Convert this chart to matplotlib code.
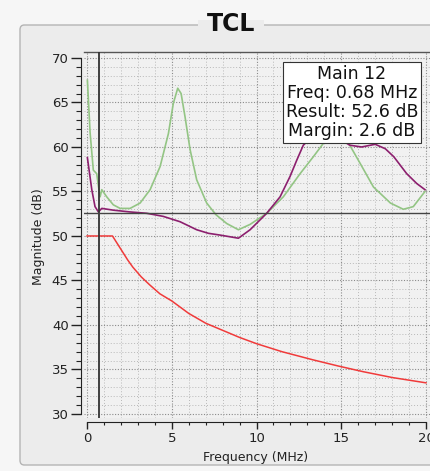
import matplotlib
matplotlib.use("Agg")
import matplotlib.pyplot as plt
from matplotlib.patches import FancyBboxPatch
from matplotlib.ticker import MultipleLocator

# --- data ---
green_f = [0.02, 0.18, 0.37, 0.57, 0.68, 0.77, 0.87, 1.16, 1.55, 1.95, 2.54, 3.13,
           3.72, 4.31, 4.8, 5.09, 5.35, 5.55, 5.78, 6.08, 6.47, 7.06, 7.6, 8.24,
           8.93, 9.62, 10.6, 11.58, 12.57, 13.35, 13.94, 14.3, 14.7, 15.1, 15.5,
           16.1, 16.9, 17.9, 18.66, 19.25, 19.94]
green_db = [67.5, 61.6, 57.4, 57.0, 55.5, 54.4, 55.2, 54.4, 53.5, 53.1, 53.1, 53.7,
            55.2, 57.8, 61.5, 64.9, 66.6, 66.0, 63.4, 59.7, 56.3, 53.7, 52.4, 51.4,
            50.7, 51.3, 52.55, 54.4, 57.0, 58.9, 60.4, 61.6, 62.3, 61.5, 60.2,
            58.2, 55.5, 53.7, 53.0, 53.3, 55.0]

purple_f = [0.02, 0.28, 0.47, 0.67, 0.87, 1.55, 2.54, 3.52, 4.5, 5.49, 6.47, 7.16,
            7.85, 8.93, 9.62, 10.6, 11.39, 11.98, 12.37, 12.76, 13.2, 14.0, 15.0,
            15.5, 16.2, 17.0, 17.6, 18.1, 18.86, 19.45, 19.94]
purple_db = [58.8, 55.2, 53.3, 52.7, 53.1, 52.9, 52.7, 52.55, 52.2, 51.6, 50.7, 50.3,
             50.1, 49.75, 50.7, 52.55, 54.4, 56.7, 58.5, 60.2, 61.0, 61.3, 60.8,
             60.2, 60.0, 60.3, 59.8, 58.9, 57.0, 55.9, 55.2]

limit_f = [0.0, 1.5, 1.8, 2.1, 2.4, 2.7, 3.2, 3.7, 4.3, 5.0, 6.0, 7.0, 8.0, 9.0,
           10.0, 11.5, 13.3, 14.8, 16.3, 18.0, 20.0]
limit_db = [50.0, 50.0, 49.1, 48.2, 47.3, 46.5, 45.4, 44.5, 43.5, 42.7, 41.3, 40.2,
            39.4, 38.6, 37.9, 37.0, 36.1, 35.4, 34.75, 34.1, 33.5]

marker_freq = 0.68
marker_result = 52.6
info_lines = ["Main 12", "Freq: 0.68 MHz", "Result: 52.6 dB", "Margin: 2.6 dB"]

W, H = 431, 471
fig = plt.figure(figsize=(W / 100, H / 100), dpi=100, facecolor="#f6f6f6")

# group box behind the plot
box = FancyBboxPatch((20 / W, 1 - 465 / H), 430 / W, 440 / H,
                     boxstyle="round,pad=0,rounding_size=0.01",
                     transform=fig.transFigure, facecolor="#ececec",
                     edgecolor="#b4b4b4", linewidth=1.0, zorder=0)
fig.patches.append(box)
fig.patches.append(plt.Rectangle((198 / W, 1 - 30 / H), 66 / W, 10 / H,
                                 transform=fig.transFigure, facecolor="#ececec",
                                 edgecolor="none", zorder=0.5))
fig.text(231 / W, 1 - 24 / H, "TCL", fontsize=17, fontweight="bold",
         ha="center", va="center", color="#111111")

ax = fig.add_axes([84 / W, 1 - 418 / H, 361 / W, 366 / H])
ax.set_zorder(2)
ax.set_facecolor("#f1f1f1")
ax.set_xlim(-0.18, 21.12)
ax.set_ylim(29.55, 70.67)

ax.xaxis.set_major_locator(MultipleLocator(5))
ax.xaxis.set_minor_locator(MultipleLocator(1))
ax.yaxis.set_major_locator(MultipleLocator(5))
ax.yaxis.set_minor_locator(MultipleLocator(1))
ax.grid(True, which="minor", linestyle=(0, (1, 2)), color="#b8b8b8", linewidth=0.7)
ax.grid(True, which="major", linestyle=(0, (1, 1.5)), color="#8a8a8a", linewidth=0.8)
ax.set_axisbelow(True)

ax.plot(green_f, green_db, color="#93c584", linewidth=1.2, zorder=3)
ax.plot(purple_f, purple_db, color="#8c1f6e", linewidth=1.2, zorder=4)
ax.plot(limit_f, limit_db, color="#f03a3a", linewidth=1.1, zorder=3)
ax.axvline(marker_freq, color="#333333", linewidth=1.3, zorder=5)
ax.axhline(marker_result, color="#444444", linewidth=1.0, zorder=5)

# marker read-out, placed in figure pixels like the screenshot
ax.text(352 / W, 1 - 102.5 / H, "\n".join(info_lines), transform=fig.transFigure,
        ha="center", va="center", fontsize=12.5, linespacing=1.08,
        color="#111111", zorder=6,
        bbox=dict(boxstyle="square,pad=0.15", facecolor="white",
                  edgecolor="#333333", linewidth=0.8))

for side in ("top", "right"):
    ax.spines[side].set_color("#555555")
    ax.spines[side].set_linewidth(1.0)
ax.spines["left"].set_position(("outward", 2))
ax.spines["left"].set_bounds(30, 70)
ax.spines["bottom"].set_position(("outward", 3))
ax.spines["bottom"].set_bounds(0, 20)
ax.spines["left"].set_color("#222222")
ax.spines["bottom"].set_color("#222222")

ax.tick_params(axis="y", which="major", length=7, width=1, labelsize=9.5, pad=2,
               colors="#222222")
ax.tick_params(axis="y", which="minor", length=3.5, width=0.8, colors="#222222")
ax.tick_params(axis="x", which="major", length=5, width=1, labelsize=9.5, pad=2,
               colors="#222222")
ax.tick_params(axis="x", which="minor", length=2.5, width=0.8, colors="#222222")

fig.text(39 / W, 1 - 237 / H, "Magnitude (dB)", rotation=90, fontsize=9,
         ha="center", va="center", color="#222222")
fig.text(256 / W, 1 - 457 / H, "Frequency (MHz)", fontsize=9, ha="center",
         va="center", color="#222222")

fig.savefig("out.png", dpi=100, facecolor=fig.get_facecolor())
